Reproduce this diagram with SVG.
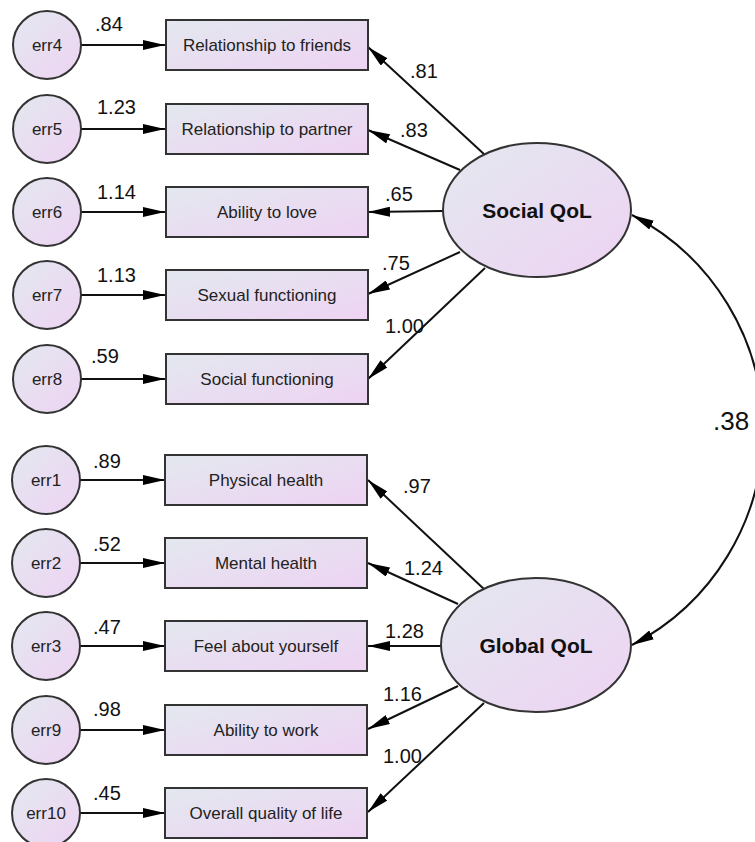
<svg xmlns="http://www.w3.org/2000/svg" width="755" height="842" viewBox="0 0 755 842">
<defs>
<linearGradient id="g" x1="0" y1="0" x2="1" y2="1">
<stop offset="0" stop-color="#e3e8ef"/>
<stop offset="1" stop-color="#eed3f3"/>
</linearGradient>
<marker id="ah" markerUnits="userSpaceOnUse" viewBox="0 0 22 10" refX="22" refY="5" markerWidth="22" markerHeight="10" orient="auto-start-reverse">
<path d="M0,0 L22,5 L0,10 z" fill="#000"/>
</marker>
<style>
.n{fill:url(#g);stroke:#333;stroke-width:2}
.t{font-family:"Liberation Sans",Arial,sans-serif;font-size:17px;fill:#222;text-anchor:middle}
.lt{font-family:"Liberation Sans",Arial,sans-serif;font-size:20px;fill:#111}
.bt{font-family:"Liberation Sans",Arial,sans-serif;font-size:21px;font-weight:bold;fill:#111;text-anchor:middle}
.c line,.c path{stroke:#111;stroke-width:2;fill:none;marker-end:url(#ah)}
</style>
</defs>
<rect width="755" height="842" fill="#fff"/>
<g id="connectors" class="c">
<line x1="81" y1="45" x2="165" y2="45"/>
<line x1="81" y1="129" x2="165" y2="129"/>
<line x1="81" y1="212" x2="165" y2="212"/>
<line x1="81" y1="295" x2="165" y2="295"/>
<line x1="81" y1="379" x2="165" y2="379"/>
<line x1="80" y1="480" x2="165" y2="480"/>
<line x1="80" y1="563" x2="165" y2="563"/>
<line x1="80" y1="646" x2="165" y2="646"/>
<line x1="80" y1="730" x2="165" y2="730"/>
<line x1="80" y1="813" x2="165" y2="813"/>
<line x1="485" y1="155" x2="368" y2="47"/>
<line x1="460" y1="170" x2="368" y2="130"/>
<line x1="443" y1="211" x2="368" y2="212"/>
<line x1="460" y1="252" x2="368" y2="294"/>
<line x1="485" y1="268" x2="368" y2="379"/>
<line x1="485" y1="590" x2="368" y2="480"/>
<line x1="458" y1="604" x2="368" y2="563"/>
<line x1="441" y1="646" x2="368" y2="646"/>
<line x1="458" y1="686" x2="368" y2="729"/>
<line x1="484" y1="703" x2="368" y2="812"/>
<path d="M632,215 A242,242 0 0,1 632,645" style="marker-start:url(#ah)"/>
</g>
<g id="labels">
<text class="lt" x="95" y="31">.84</text>
<text class="lt" x="97" y="114">1.23</text>
<text class="lt" x="97" y="199">1.14</text>
<text class="lt" x="97" y="282">1.13</text>
<text class="lt" x="91" y="363">.59</text>
<text class="lt" x="93" y="468">.89</text>
<text class="lt" x="93" y="551">.52</text>
<text class="lt" x="93" y="634">.47</text>
<text class="lt" x="93" y="716">.98</text>
<text class="lt" x="93" y="800">.45</text>
<text class="lt" x="410" y="78">.81</text>
<text class="lt" x="400" y="137">.83</text>
<text class="lt" x="385" y="201">.65</text>
<text class="lt" x="382" y="270">.75</text>
<text class="lt" x="385" y="333">1.00</text>
<text class="lt" x="403" y="493">.97</text>
<text class="lt" x="404" y="575">1.24</text>
<text class="lt" x="385" y="638">1.28</text>
<text class="lt" x="383" y="701">1.16</text>
<text class="lt" x="383" y="763">1.00</text>
<text class="lt" x="713" y="430" style="font-size:26px">.38</text>
</g>
<g id="err4"><circle class="n" cx="47" cy="45" r="34"/><text class="t" x="47" y="51">err4</text></g>
<g id="err5"><circle class="n" cx="47" cy="129" r="34"/><text class="t" x="47" y="135">err5</text></g>
<g id="err6"><circle class="n" cx="47" cy="212" r="34"/><text class="t" x="47" y="218">err6</text></g>
<g id="err7"><circle class="n" cx="47" cy="295" r="34"/><text class="t" x="47" y="301">err7</text></g>
<g id="err8"><circle class="n" cx="47" cy="379" r="34"/><text class="t" x="47" y="385">err8</text></g>
<g id="err1"><circle class="n" cx="46" cy="480" r="34"/><text class="t" x="46" y="486">err1</text></g>
<g id="err2"><circle class="n" cx="46" cy="563" r="34"/><text class="t" x="46" y="569">err2</text></g>
<g id="err3"><circle class="n" cx="46" cy="646" r="34"/><text class="t" x="46" y="652">err3</text></g>
<g id="err9"><circle class="n" cx="46" cy="730" r="34"/><text class="t" x="46" y="736">err9</text></g>
<g id="err10"><circle class="n" cx="46" cy="813" r="34"/><text class="t" x="46" y="819">err10</text></g>
<g id="friends"><rect class="n" x="166" y="20" width="202" height="50"/><text class="t" x="267" y="51">Relationship to friends</text></g>
<g id="partner"><rect class="n" x="166" y="104" width="202" height="50"/><text class="t" x="267" y="135">Relationship to partner</text></g>
<g id="love"><rect class="n" x="166" y="187" width="202" height="50"/><text class="t" x="267" y="218">Ability to love</text></g>
<g id="sexual"><rect class="n" x="166" y="270" width="202" height="50"/><text class="t" x="267" y="301">Sexual functioning</text></g>
<g id="socialf"><rect class="n" x="166" y="354" width="202" height="50"/><text class="t" x="267" y="385">Social functioning</text></g>
<g id="physical"><rect class="n" x="165" y="455" width="202" height="50"/><text class="t" x="266" y="486">Physical health</text></g>
<g id="mental"><rect class="n" x="165" y="538" width="202" height="50"/><text class="t" x="266" y="569">Mental health</text></g>
<g id="feel"><rect class="n" x="165" y="621" width="202" height="50"/><text class="t" x="266" y="652">Feel about yourself</text></g>
<g id="work"><rect class="n" x="165" y="705" width="202" height="50"/><text class="t" x="266" y="736">Ability to work</text></g>
<g id="overall"><rect class="n" x="165" y="788" width="202" height="50"/><text class="t" x="266" y="819">Overall quality of life</text></g>
<g id="social"><ellipse class="n" cx="537" cy="210" rx="94" ry="67"/><text class="bt" x="537" y="218">Social QoL</text></g>
<g id="global"><ellipse class="n" cx="536" cy="645" rx="95" ry="67"/><text class="bt" x="536" y="653">Global QoL</text></g>
</svg>
